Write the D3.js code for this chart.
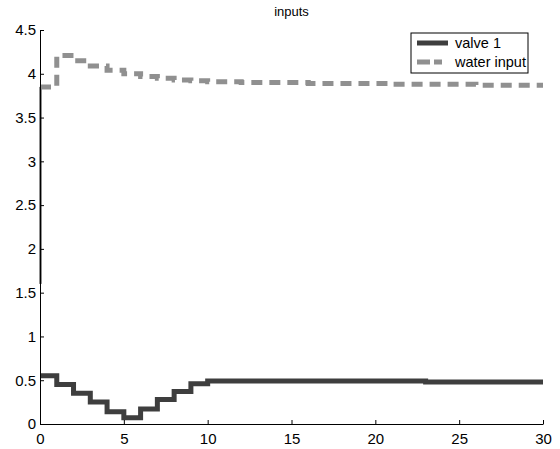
<!DOCTYPE html>
<html>
<head>
<meta charset="utf-8">
<script src="https://cdn.jsdelivr.net/npm/d3@7"></script>
<style>
  body { margin: 0; background: #fff; }
  text { font-family: "Liberation Sans", Arial, sans-serif; }
</style>
</head>
<body>
<div id="chart"></div>
<script>
// Series values, one per time step (stairs)
const timeSteps = d3.range(0, 31);
const valve1 = [0.55, 0.45, 0.35, 0.25, 0.14, 0.07, 0.17, 0.28, 0.37, 0.46,
  0.49, 0.49, 0.49, 0.49, 0.49, 0.49, 0.49, 0.49, 0.49, 0.49,
  0.49, 0.49, 0.49, 0.48, 0.48, 0.48, 0.48, 0.48, 0.48, 0.48, 0.48];
const waterInput = [3.85, 4.21, 4.15, 4.09, 4.04, 4.00, 3.97, 3.95, 3.93, 3.92,
  3.91, 3.91, 3.90, 3.90, 3.90, 3.90, 3.89, 3.89, 3.89, 3.89,
  3.89, 3.88, 3.88, 3.88, 3.88, 3.88, 3.87, 3.87, 3.87, 3.87, 3.87];
const waterStart = 1.6;
const xTicks = [0, 5, 10, 15, 20, 25, 30];
const yTicks = [0, 0.5, 1, 1.5, 2, 2.5, 3, 3.5, 4, 4.5];
const legendLabels = ["valve 1", "water input"];

const width = 560, height = 449;
const margin = { top: 30, right: 17, bottom: 25, left: 40 };

const svg = d3.select("#chart").append("svg")
  .attr("width", width)
  .attr("height", height);

// Scales
const xScale = d3.scaleLinear().domain([0, 30]).range([margin.left, width - margin.right]);
const yScale = d3.scaleLinear().domain([0, 4.5]).range([height - margin.bottom, margin.top]);

// Title
svg.append("text")
  .attr("x", (xScale(0) + xScale(30)) / 2)
  .attr("y", 16)
  .attr("text-anchor", "middle")
  .style("font-size", "13px")
  .text("inputs");

// Stairs line generator
const line = d3.line()
  .x((d) => xScale(d[0]))
  .y((d) => yScale(d[1]))
  .curve(d3.curveStepAfter);

const valveData = timeSteps.map((t, i) => [t, valve1[i]]);
const waterData = timeSteps.map((t, i) => [t, waterInput[i]]);

// Initial jump of the water input, drawn along the y axis
svg.append("path")
  .datum([[0, waterStart], [0, waterInput[0]]])
  .attr("fill", "none")
  .attr("stroke", "#222")
  .attr("stroke-width", 2)
  .attr("d", d3.line().x((d) => xScale(d[0]) + 0.5).y((d) => yScale(d[1])));

svg.append("path")
  .datum(valveData)
  .attr("fill", "none")
  .attr("stroke", "#3e3e3e")
  .attr("stroke-width", 5)
  .attr("d", line);

svg.append("path")
  .datum(waterData)
  .attr("fill", "none")
  .attr("stroke", "#909090")
  .attr("stroke-width", 5)
  .attr("stroke-dasharray", "11,7")
  .attr("d", line);

// Axes with inward ticks
const xAxis = svg.append("g")
  .attr("transform", `translate(0,${yScale(0)})`)
  .call(d3.axisBottom(xScale).tickValues(xTicks).tickSizeInner(-4).tickSizeOuter(0).tickPadding(9));
const yAxis = svg.append("g")
  .attr("transform", `translate(${xScale(0)},0)`)
  .call(d3.axisLeft(yScale).tickValues(yTicks).tickFormat(d3.format("")).tickSizeInner(-4).tickSizeOuter(0).tickPadding(4));

[xAxis, yAxis].forEach((g) => {
  g.selectAll("text").style("font-size", "15px").attr("fill", "#000");
  g.selectAll("line").attr("stroke", "#000");
  g.select(".domain").attr("stroke", "#000");
});

// Legend
const legend = svg.append("g").attr("transform", "translate(411,33)");
legend.append("rect")
  .attr("width", 117)
  .attr("height", 40)
  .attr("fill", "#fff")
  .attr("stroke", "#000");

const legendStyles = [
  { stroke: "#3e3e3e", dash: null },
  { stroke: "#909090", dash: "13,4,8" }
];
legendLabels.forEach((label, i) => {
  const y = 10 + i * 19;
  legend.append("line")
    .attr("x1", 6).attr("x2", 37)
    .attr("y1", y).attr("y2", y)
    .attr("stroke", legendStyles[i].stroke)
    .attr("stroke-width", 5)
    .attr("stroke-dasharray", legendStyles[i].dash);
  legend.append("text")
    .attr("x", 44)
    .attr("y", y + 5)
    .style("font-size", "14.5px")
    .text(label);
});
</script>
</body>
</html>
